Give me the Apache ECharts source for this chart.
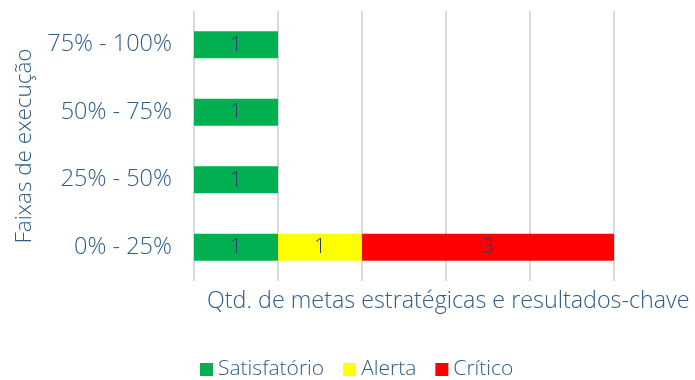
<!DOCTYPE html>
<html>
<head>
<meta charset="utf-8">
<script src="https://cdn.jsdelivr.net/npm/echarts@6/dist/echarts.min.js"></script>
<style>
  html, body { margin: 0; padding: 0; background: #ffffff; }
  #chart { width: 695px; height: 380px; }
</style>
</head>
<body>
<div id="chart"></div>
<script>
// Faixas de execução (bottom to top)
const categories = ['0% - 25%', '25% - 50%', '50% - 75%', '75% - 100%'];
const seriesNames = ['Satisfatório', 'Alerta', 'Crítico'];
const satisfatorio = [1, 1, 1, 1];
const alerta = [1, 0, 0, 0];
const critico = [3, 0, 0, 0];
const xTicks = [0, 1, 2, 3, 4, 5];

const textColor = '#2e5d87';
const labelColor = '#1f3f66';
const font = '"Open Sans", Lato, sans-serif';

function barSeries(name, values, color) {
  return {
    name: name,
    type: 'bar',
    stack: 'total',
    barWidth: 27,
    data: values.map(v => (v === 0 ? null : v)),
    itemStyle: { color: color },
    label: {
      show: true,
      position: 'inside',
      color: labelColor,
      fontFamily: font,
      fontSize: 21,
      fontWeight: 300,
      formatter: p => p.value
    },
    emphasis: { disabled: true }
  };
}

const chart = echarts.init(document.getElementById('chart'), null, { renderer: 'canvas' });
chart.setOption({
  animation: false,
  textStyle: { fontFamily: font },
  title: {
    text: 'Qtd. de metas estratégicas e resultados-chave',
    left: 202,
    top: 285,
    textStyle: { color: textColor, fontSize: 23.3, fontWeight: 300, fontFamily: font }
  },
  grid: { left: 194, right: 81, top: 11, bottom: 99, containLabel: false },
  xAxis: {
    type: 'value',
    min: xTicks[0],
    max: xTicks[xTicks.length - 1],
    interval: 1,
    axisLabel: { show: false },
    axisLine: { show: false },
    axisTick: { show: false },
    splitLine: { show: true, lineStyle: { color: '#d9d9d9', width: 2 } }
  },
  yAxis: {
    type: 'category',
    data: categories,
    name: 'Faixas de execução',
    nameLocation: 'middle',
    nameRotate: 90,
    nameGap: 158,
    nameTextStyle: { color: textColor, fontSize: 22.5, fontWeight: 300, fontFamily: font },
    axisLine: { show: false },
    axisTick: { show: false },
    axisLabel: { color: textColor, fontSize: 23.5, fontWeight: 300, fontFamily: font, margin: 22 }
  },
  legend: {
    data: seriesNames,
    bottom: -5,
    left: 195,
    itemWidth: 13,
    itemHeight: 13,
    itemGap: 19,
    icon: 'rect',
    textStyle: { color: textColor, fontSize: 21, fontWeight: 300, fontFamily: font }
  },
  series: [
    barSeries(seriesNames[0], satisfatorio, '#00b050'),
    barSeries(seriesNames[1], alerta, '#ffff00'),
    barSeries(seriesNames[2], critico, '#ff0000')
  ]
});
</script>
</body>
</html>
